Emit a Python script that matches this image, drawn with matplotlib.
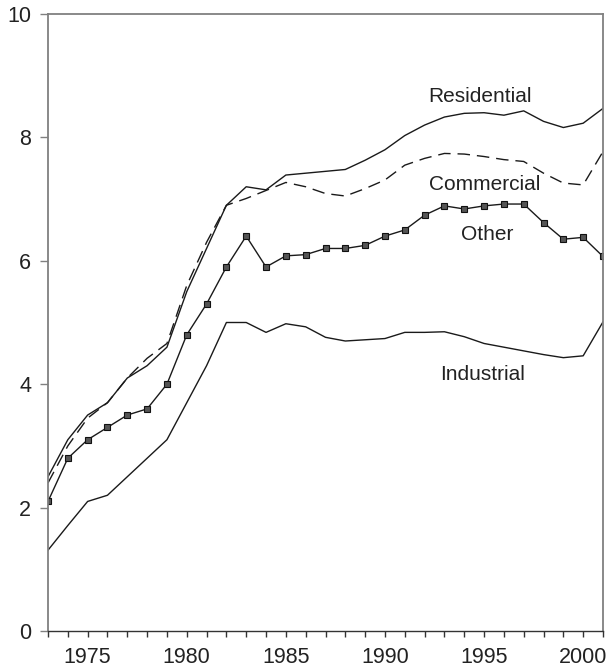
import matplotlib
matplotlib.use("Agg")
import matplotlib.pyplot as plt

years = list(range(1973, 2002))
residential = [2.5, 3.1, 3.5, 3.7, 4.1, 4.3, 4.6, 5.5, 6.2, 6.9, 7.2, 7.15, 7.39, 7.42, 7.45, 7.48,
               7.63, 7.8, 8.03, 8.2, 8.33, 8.39, 8.40, 8.36, 8.43, 8.26, 8.16, 8.23, 8.47]
commercial = [2.4, 3.0, 3.45, 3.7, 4.1, 4.42, 4.66, 5.6, 6.3, 6.9, 7.01, 7.14, 7.27, 7.2, 7.09, 7.05,
              7.17, 7.31, 7.55, 7.66, 7.74, 7.73, 7.69, 7.64, 7.61, 7.42, 7.26, 7.23, 7.77]
other = [2.1, 2.8, 3.1, 3.3, 3.5, 3.6, 4.0, 4.8, 5.3, 5.9, 6.4, 5.9, 6.08, 6.1, 6.2, 6.2,
         6.25, 6.4, 6.5, 6.74, 6.89, 6.84, 6.89, 6.92, 6.92, 6.62, 6.35, 6.38, 6.07]
industrial = [1.31, 1.71, 2.1, 2.2, 2.5, 2.8, 3.1, 3.7, 4.3, 5.0, 5.0, 4.84, 4.98, 4.93, 4.76, 4.70,
              4.72, 4.74, 4.84, 4.84, 4.85, 4.77, 4.66, 4.6, 4.54, 4.48, 4.43, 4.46, 5.01]

labels = {"Residential": (1994.8, 8.57), "Commercial": (1995.05, 7.15),
          "Other": (1995.15, 6.34), "Industrial": (1994.9, 4.07)}

plt.rcParams['font.family'] = ['Liberation Sans', 'DejaVu Sans']
fig = plt.figure(figsize=(6.07, 6.69), dpi=100)
ax = fig.add_axes([48/607, 38/669, 555/607, 617/669])

lc = '#1a1a1a'
ax.plot(years, residential, color=lc, lw=1.0)
ax.plot(years, commercial, color=lc, lw=1.0, linestyle=(0, (9, 5)))
ax.plot(years, other, color=lc, lw=1.0, marker='s', markersize=4.3,
        markerfacecolor='#555555', markeredgecolor='#111111', markeredgewidth=0.8)
ax.plot(years, industrial, color=lc, lw=1.0)

for txt, (x, y) in labels.items():
    ax.text(x, y, txt, fontsize=15, ha='center', va='baseline', color='#222222')

ax.set_xlim(1973, 2001)
ax.set_ylim(0, 10)
ax.set_yticks([0, 2, 4, 6, 8, 10])
ax.set_xticks(years, minor=False)
ax.set_xticklabels([str(y) if y % 5 == 0 else '' for y in years])
for s in ax.spines.values():
    s.set_color('#808080')
    s.set_linewidth(1.3)
ax.spines['bottom'].set_color('#333333')
ax.spines['bottom'].set_linewidth(1.0)
ax.tick_params(axis='both', direction='out', labelsize=15.5, labelcolor='#222222')
ax.tick_params(axis='y', length=6, width=1.0, color='#808080', pad=6)
ax.tick_params(axis='x', length=4.5, width=1.0, color='#333333', pad=7)

fig.savefig('out.png', dpi=100)
